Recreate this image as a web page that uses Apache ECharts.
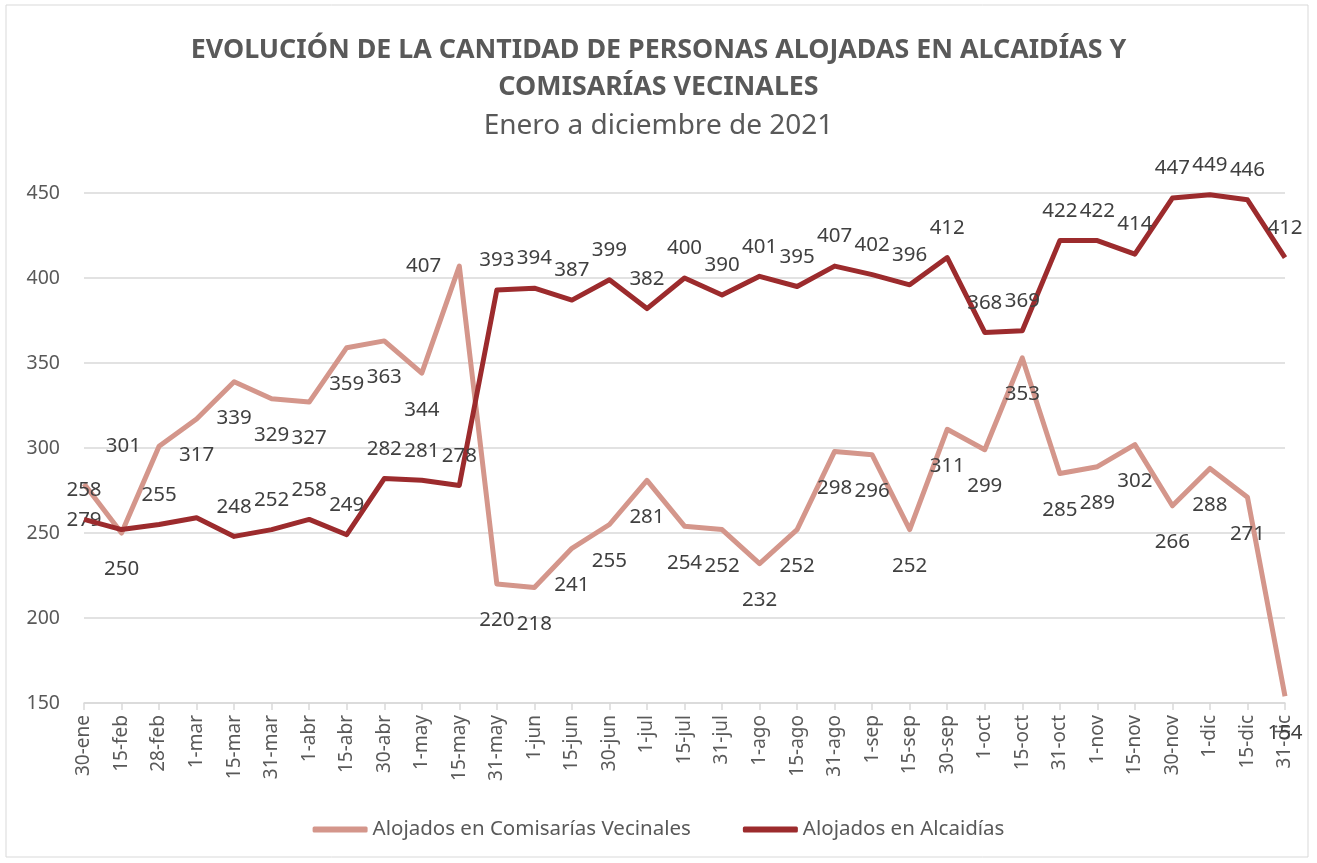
<!DOCTYPE html>
<html>
<head>
<meta charset="utf-8">
<script src="https://cdn.jsdelivr.net/npm/echarts@6/dist/echarts.min.js"></script>
<style>
  html, body { margin: 0; padding: 0; background: #fff; }
  #chart { width: 1317px; height: 863px; }
</style>
</head>
<body>
<div id="chart"></div>
<script>
// fechas de corte
var categories = ['30-ene','15-feb','28-feb','1-mar','15-mar','31-mar','1-abr','15-abr','30-abr','1-may','15-may',
  '31-may','1-jun','15-jun','30-jun','1-jul','15-jul','31-jul','1-ago','15-ago','31-ago','1-sep','15-sep','30-sep',
  '1-oct','15-oct','31-oct','1-nov','15-nov','30-nov','1-dic','15-dic','31-dic'];

// alojados en comisarías vecinales
var comisarias = [279,250,301,317,339,329,327,359,363,344,407,220,218,241,255,281,254,252,232,252,298,296,252,311,
  299,353,285,289,302,266,288,271,154];

// alojados en alcaidías
var alcaidias = [258,252,255,259,248,252,258,249,282,281,278,393,394,387,399,382,400,390,401,395,407,402,396,412,
  368,369,422,422,414,447,449,446,412];

var yTicks = { min: 150, max: 450, step: 50 };

// etiquetas movidas a mano en el original: [indice, desplazamiento vertical]
var leftLabelsCom = [[2, 2], [10, 14]];
var hiddenLabelsAlc = [1, 3];

var TXT = '#404040';
var GRAY = '#595959';

var chart = echarts.init(document.getElementById('chart'));

var comData = comisarias.map(function (v, i) {
  for (var k = 0; k < leftLabelsCom.length; k++) {
    if (leftLabelsCom[k][0] === i) {
      return { value: v, label: { position: 'left', distance: 18, offset: [0, leftLabelsCom[k][1]] } };
    }
  }
  return v;
});
var alcData = alcaidias.map(function (v, i) {
  if (hiddenLabelsAlc.indexOf(i) >= 0) {
    return { value: v, label: { show: false } };
  }
  return v;
});

var option = {
  animation: false,
  backgroundColor: '#fff',
  textStyle: { fontFamily: 'Noto Sans' },
  graphic: [{
    type: 'rect',
    shape: { x: 6, y: 5, width: 1302, height: 852 },
    style: { fill: 'none', stroke: '#d9d9d9', lineWidth: 1 },
    silent: true,
    z: -1
  }],
  title: {
    text: 'EVOLUCIÓN DE LA CANTIDAD DE PERSONAS ALOJADAS EN ALCAIDÍAS Y\nCOMISARÍAS VECINALES',
    subtext: 'Enero a diciembre de 2021',
    left: 'center',
    top: 27,
    itemGap: 6,
    textStyle: { fontSize: 26.8, fontWeight: 'bold', color: GRAY, lineHeight: 37, fontFamily: 'Noto Sans' },
    subtextStyle: { fontSize: 28, color: GRAY, fontFamily: 'Noto Sans' }
  },
  legend: {
    bottom: 18,
    left: 'center',
    itemWidth: 55,
    itemHeight: 6,
    itemGap: 52,
    icon: 'roundRect',
    textStyle: { fontSize: 20.5, color: GRAY, fontFamily: 'Noto Sans' },
    data: ['Alojados en Comisarías Vecinales', 'Alojados en Alcaidías']
  },
  grid: { left: 84, right: 32, top: 193, bottom: 160 },
  xAxis: {
    type: 'category',
    data: categories,
    boundaryGap: false,
    axisLine: { lineStyle: { color: '#d9d9d9', width: 1.5 } },
    axisTick: { show: true, alignWithLabel: true, length: 7, lineStyle: { color: '#d9d9d9', width: 1.5 } },
    axisLabel: { rotate: 90, interval: 0, fontSize: 19, color: GRAY, margin: 12, fontFamily: 'Noto Sans' }
  },
  yAxis: {
    type: 'value',
    min: yTicks.min,
    max: yTicks.max,
    interval: yTicks.step,
    axisLine: { show: false },
    axisTick: { show: false },
    axisLabel: { fontSize: 19.5, color: GRAY, margin: 24, fontFamily: 'Noto Sans' },
    splitLine: { lineStyle: { color: '#d9d9d9', width: 1.5 } }
  },
  series: [
    {
      name: 'Alojados en Comisarías Vecinales',
      type: 'line',
      data: comData,
      symbol: 'circle',
      symbolSize: 0.1,
      showSymbol: true,
      color: '#d4968b',
      lineStyle: { width: 5, color: '#d4968b', join: 'round' },
      label: { show: true, position: 'bottom', distance: 26, fontSize: 20.5, color: TXT, fontFamily: 'Noto Sans' },
      labelLayout: { hideOverlap: false },
      z: 2
    },
    {
      name: 'Alojados en Alcaidías',
      type: 'line',
      data: alcData,
      symbol: 'circle',
      symbolSize: 0.1,
      showSymbol: true,
      color: '#9c2b2d',
      lineStyle: { width: 5, color: '#9c2b2d', join: 'round' },
      label: { show: true, position: 'top', distance: 19, fontSize: 20.5, color: TXT, fontFamily: 'Noto Sans' },
      labelLayout: { hideOverlap: false },
      z: 3
    }
  ]
};

chart.setOption(option);
</script>
</body>
</html>
